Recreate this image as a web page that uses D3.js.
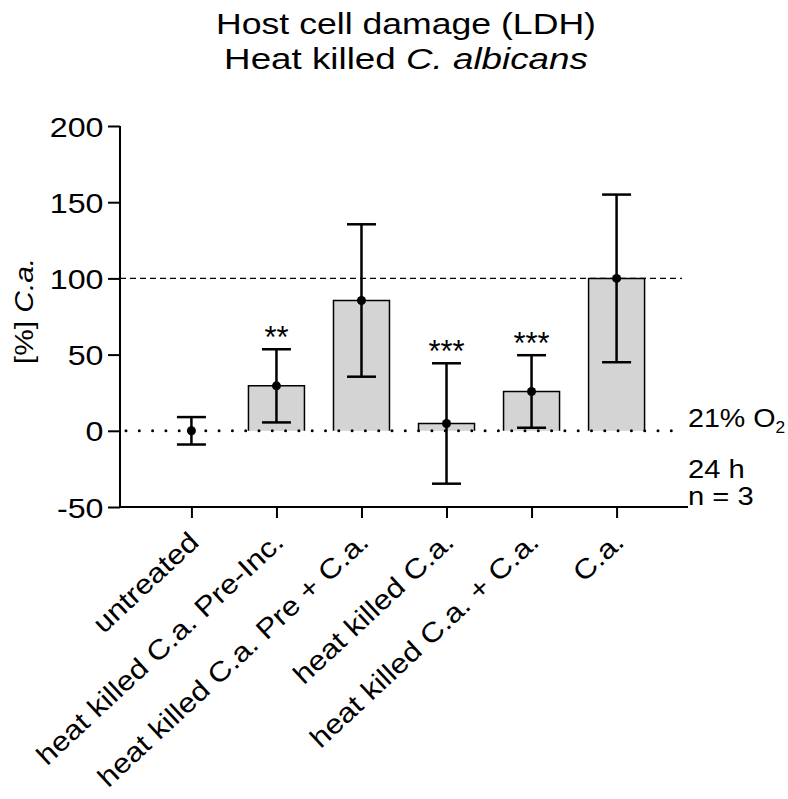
<!DOCTYPE html>
<html>
<head>
<meta charset="utf-8">
<script src="https://cdn.jsdelivr.net/npm/d3@7"></script>
<style>
  body { margin: 0; background: #fff; }
  text { font-family: "Liberation Sans", Arial, sans-serif; fill: #000; }
</style>
</head>
<body>
<div id="chart"></div>
<script>
// data
const categories = ["untreated", "heat killed C.a. Pre-Inc.", "heat killed C.a. Pre + C.a.",
                    "heat killed C.a.", "heat killed C.a. + C.a.", "C.a."];
const means = [0, 29.5, 85.5, 4.8, 25.8, 100];
const sds = [9, 24, 50, 39.5, 23.8, 55];
const stars = ["", "**", "", "***", "***", ""];
const yTicks = [-50, 0, 50, 100, 150, 200];
const notes = ["24 h", "n = 3"];

const width = 788, height = 799;
const stretch = 1.15; // the lettering in the figure is a bit wider than Arial

const svg = d3.select("#chart").append("svg")
    .attr("width", width)
    .attr("height", height);

var yScale = d3.scaleLinear()
    .domain([-50, 200])
    .range([507, 126]);

var xScale = d3.scalePoint()
    .domain(categories)
    .range([120, 688])
    .padding(0.84);

const barW = 56;

// title, fitted to the width it has in the figure
function fitLine(y, target, parts) {
  const g = svg.append("g");
  const t = g.append("text").attr("text-anchor", "middle").style("font-size", "29px");
  parts.forEach(p => t.append("tspan").style("font-style", p[1] ? "italic" : "normal").text(p[0]));
  const w = t.node().getBBox().width;
  g.attr("transform", "translate(406," + y + ") scale(" + (target / w) + ",1)");
}
fitLine(34, 380, [["Host cell damage (LDH)", false]]);
fitLine(69, 364, [["Heat killed ", false], ["C. albicans", true]]);

// bars (no bottom edge)
const bars = categories.map((c, i) => ({c: c, m: means[i]})).filter(d => d.m !== 0);
svg.append("g").selectAll("rect")
    .data(bars)
    .enter()
    .append("rect")
    .attr("x", d => xScale(d.c) - barW / 2)
    .attr("y", d => yScale(d.m))
    .attr("width", barW)
    .attr("height", d => yScale(0) - yScale(d.m))
    .style("fill", "#d4d4d4");

svg.append("g").selectAll("path")
    .data(bars)
    .enter()
    .append("path")
    .attr("d", d => {
      const x0 = xScale(d.c) - barW / 2, x1 = xScale(d.c) + barW / 2;
      return "M" + x0 + "," + yScale(0) + "V" + yScale(d.m) + "H" + x1 + "V" + yScale(0);
    })
    .style("fill", "none")
    .style("stroke", "#000")
    .style("stroke-width", 1.5);

// reference lines
svg.append("line")
    .attr("x1", 120).attr("x2", 682)
    .attr("y1", yScale(100)).attr("y2", yScale(100))
    .style("stroke", "#000")
    .style("stroke-width", 1.3)
    .style("stroke-dasharray", "6,4");

svg.append("line")
    .attr("x1", 126).attr("x2", 682)
    .attr("y1", yScale(0)).attr("y2", yScale(0))
    .style("stroke", "#000")
    .style("stroke-width", 3)
    .style("stroke-linecap", "round")
    .style("stroke-dasharray", "0,13.3");

// error bars
const eb = svg.append("g").style("stroke", "#000").style("stroke-width", 2.5);
categories.forEach((c, i) => {
  const x = xScale(c);
  eb.append("line").attr("x1", x).attr("x2", x)
    .attr("y1", yScale(means[i] - sds[i])).attr("y2", yScale(means[i] + sds[i]));
  [means[i] - sds[i], means[i] + sds[i]].forEach(v => {
    eb.append("line").attr("x1", x - 14.5).attr("x2", x + 14.5)
      .attr("y1", yScale(v)).attr("y2", yScale(v));
  });
});

svg.append("g").selectAll("circle")
    .data(categories)
    .enter()
    .append("circle")
    .attr("cx", d => xScale(d))
    .attr("cy", (d, i) => yScale(means[i]))
    .attr("r", 4.5)
    .style("fill", "#000");

// significance
svg.append("g").selectAll("text")
    .data(categories)
    .enter()
    .append("text")
    .attr("x", d => xScale(d))
    .attr("y", (d, i) => yScale(means[i] + sds[i]) - 1)
    .attr("text-anchor", "middle")
    .style("font-size", "31px")
    .text((d, i) => stars[i]);

// axes
const yAxis = svg.append("g")
    .attr("transform", "translate(120,0)")
    .call(d3.axisLeft(yScale).tickValues(yTicks).tickSize(12).tickPadding(4).tickFormat(d => String(d)));
yAxis.selectAll(".tick text")
    .style("font-size", "28px")
    .attr("x", null).attr("dy", null)
    .attr("transform", "translate(-16.5,10) scale(" + stretch + ",1)");
yAxis.select(".domain").attr("d", "M0," + yScale(200) + "V" + yScale(-50)).style("stroke-width", 2);
yAxis.selectAll(".tick line").style("stroke-width", 2);

const xAxis = svg.append("g")
    .attr("transform", "translate(0," + yScale(-50) + ")")
    .call(d3.axisBottom(xScale).tickSize(11).tickFormat(""));
xAxis.select(".domain").attr("d", "M120,0H688").style("stroke-width", 2);
xAxis.selectAll(".tick line").style("stroke-width", 2);

// rotated category labels
svg.append("g").selectAll("text")
    .data(categories)
    .enter()
    .append("text")
    .attr("text-anchor", "end")
    .attr("transform", d => "translate(" + (xScale(d) + 9) + ",544) rotate(-43) scale(" + stretch + ",1)")
    .style("font-size", "27.3px")
    .text(d => d);

// y title
const ytitle = svg.append("text")
    .attr("text-anchor", "middle")
    .attr("transform", "translate(33,311) rotate(-90) scale(" + stretch + ",1)")
    .style("font-size", "26px");
ytitle.append("tspan").text("[%] ");
ytitle.append("tspan").style("font-style", "italic").text("C.a.");

// side notes
const note = svg.append("text")
    .attr("transform", "translate(688,427) scale(1.08,1)")
    .style("font-size", "26.5px");
note.append("tspan").text("21% O");
note.append("tspan").attr("dy", 6).style("font-size", "16px").text("2");
svg.append("g").selectAll("text")
    .data(notes)
    .enter()
    .append("text")
    .attr("transform", (d, i) => "translate(688," + [478, 505][i] + ") scale(1.1,1)")
    .style("font-size", "26.5px")
    .text(d => d);
</script>
</body>
</html>
